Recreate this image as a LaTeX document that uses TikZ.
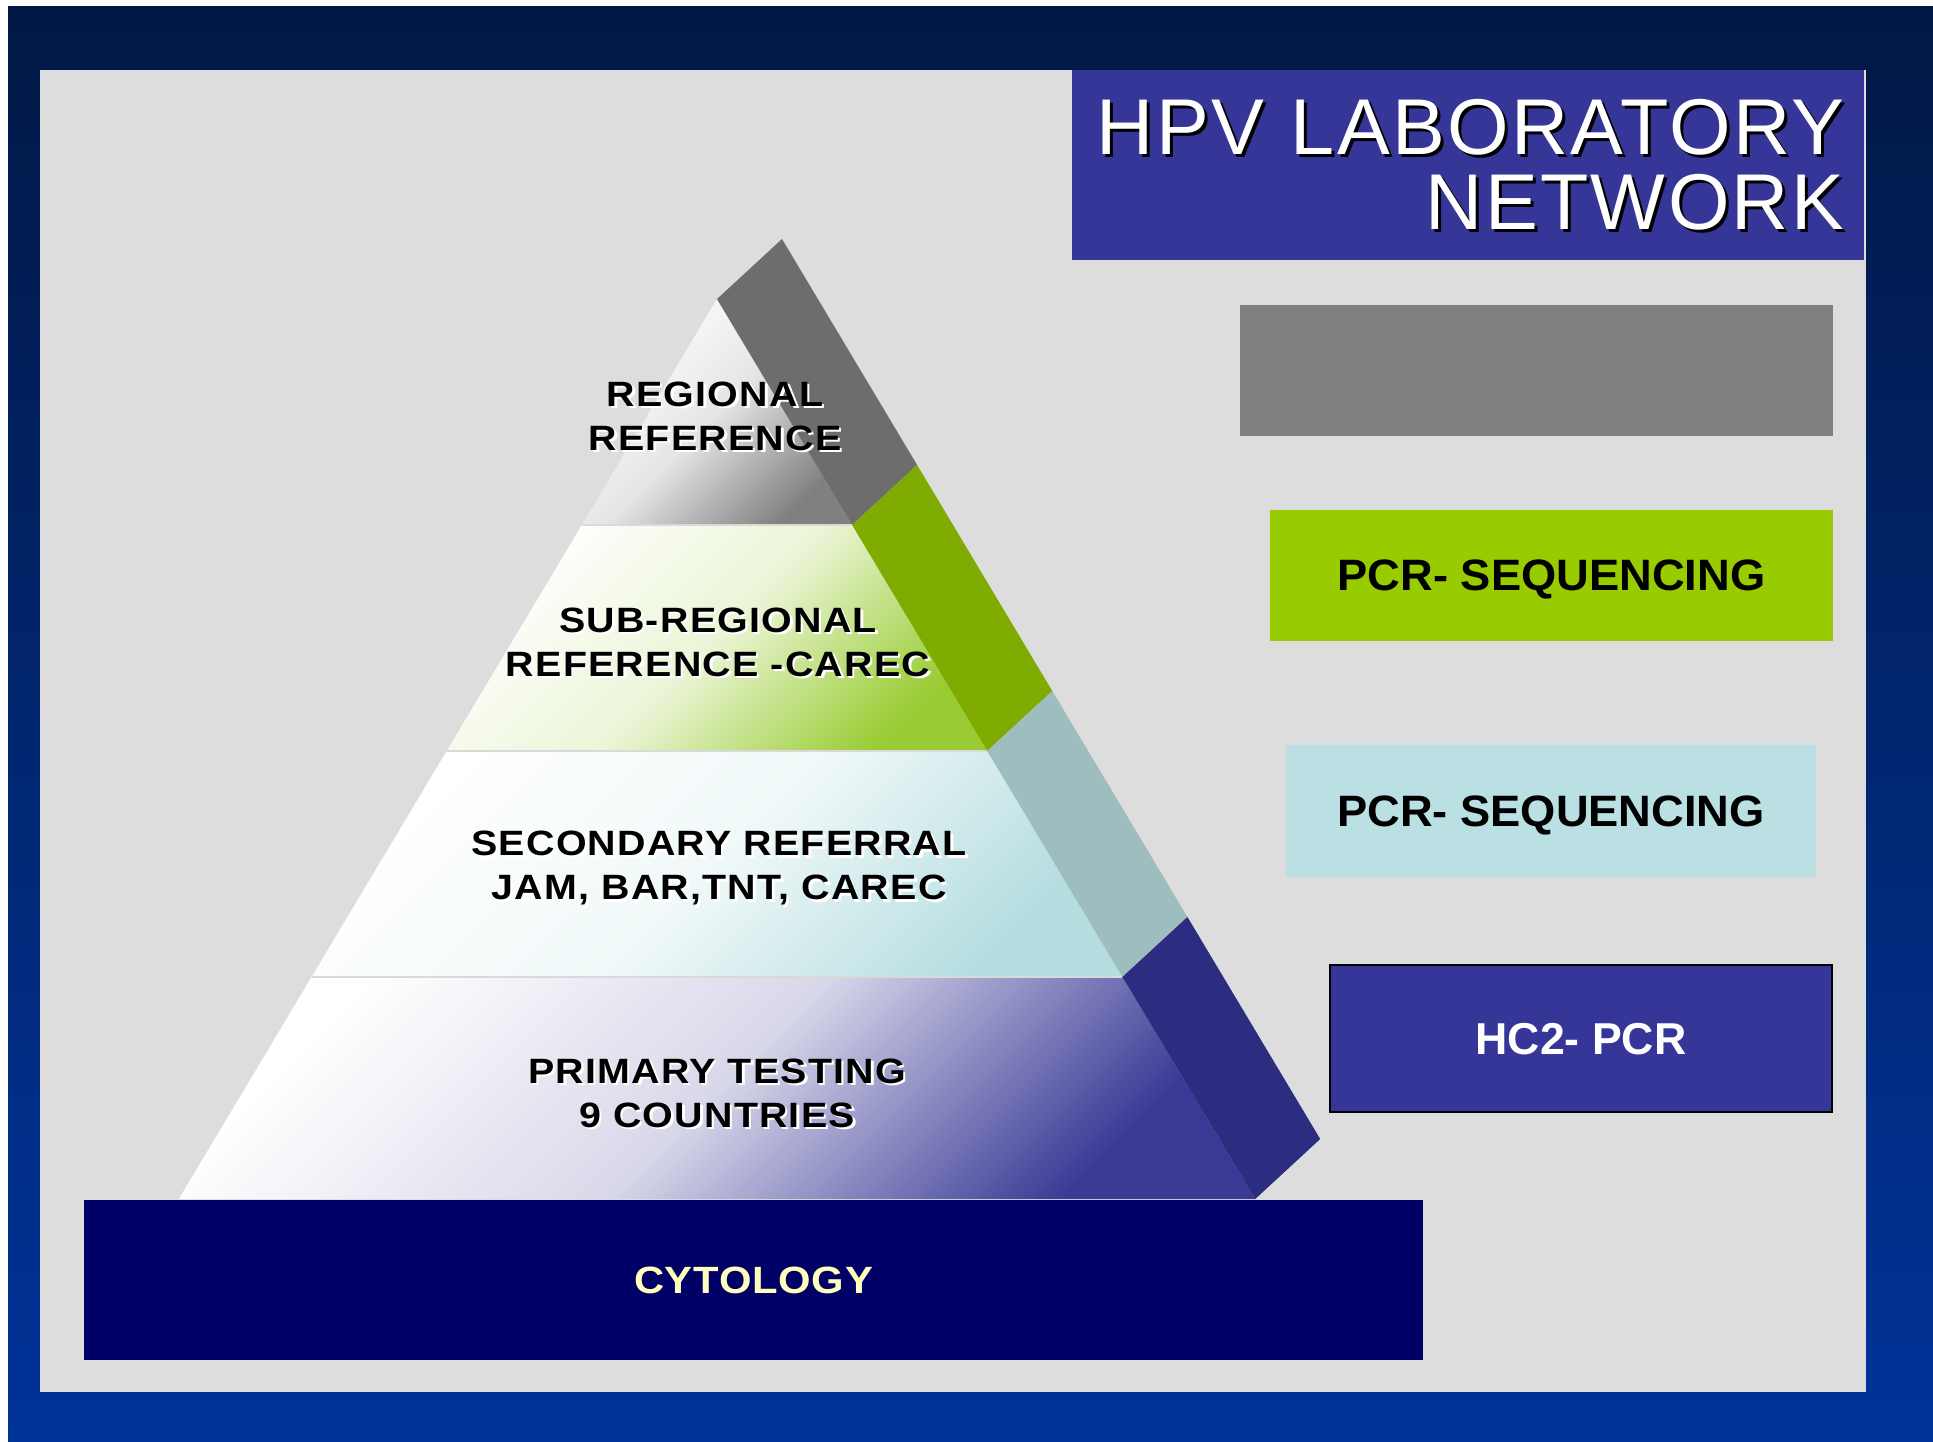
\documentclass[tikz,border=0pt]{standalone}
\usepackage{fontspec}
\setmainfont{Liberation Sans}
\newfontfamily\tierfont{Liberation Sans}[FakeStretch=1.12, LetterSpace=3.5]
\newfontfamily\cytofont{Liberation Sans}[FakeStretch=1.1, LetterSpace=2]
\newfontfamily\titlefont{Liberation Sans}[LetterSpace=3]
\newfontfamily\boxfont{Liberation Sans}[FakeStretch=1.03]
\usetikzlibrary{calc}

\definecolor{frametop}{HTML}{011845}
\definecolor{framebot}{HTML}{003399}
\definecolor{panel}{HTML}{DDDDDD}
\definecolor{titleblue}{HTML}{363699}
\definecolor{boxgray}{HTML}{808080}
\definecolor{boxgreen}{HTML}{99CC00}
\definecolor{boxteal}{HTML}{BBE0E3}
\definecolor{cyto}{HTML}{000066}
\definecolor{cytotext}{HTML}{FFFFBB}
\definecolor{bandgray}{HTML}{6D6D6D}
\definecolor{bandgreen}{HTML}{80AB00}
\definecolor{bandteal}{HTML}{9DBDBF}
\definecolor{bandblue}{HTML}{2C2C80}
\definecolor{lyrgray}{HTML}{808080}
\definecolor{lyrgreen}{HTML}{99CC33}
\definecolor{lyrteal}{HTML}{B5DDE0}
\definecolor{lyrblue}{HTML}{3A3A96}

\newcommand\tierlabel[3]{%
  \node[tiertext, text=white] (#1-sh) at ([shift={(2.5,2.5)}]#2) {#3};
  \node[tiertext] (#1) at (#2) {#3};}

\begin{document}
\begin{tikzpicture}[x=0.01cm, y=-0.01cm,
  tiertext/.style={font=\tierfont\bfseries\fontsize{10pt}{12.5pt}\selectfont, align=center, inner sep=0pt},
  titletext/.style={font=\titlefont\fontsize{22.5pt}{21.3pt}\selectfont, text width=7.52cm, align=right, inner sep=0pt},
  labbox/.style={inner sep=0pt, text depth=0pt, font=\boxfont\bfseries\fontsize{12.5pt}{15pt}\selectfont},
  sepline/.style={draw=black!15, line width=0.3pt}]
\useasboundingbox (0,0) rectangle (1933,1441);
\fill[white] (0,0) rectangle (1933,1441);
\shade[top color=frametop, bottom color=framebot] (8,6) rectangle (1933,1441);
\fill[panel] (40,70) rectangle (1866,1392);

\node[fill=titleblue, minimum width=7.92cm, minimum height=1.9cm] (titlebox) at (1468,165) {};
\node[titletext, text=black] (title-sh) at ([shift={(3,3)}]titlebox.center) {HPV LABORATORY\\NETWORK};
\node[titletext, text=white] (title) at (titlebox.center) {HPV LABORATORY\\NETWORK};

\coordinate (apex) at (717,299);
\coordinate (bl) at (178.8,1199);
\coordinate (br) at (1255.2,1199);
\foreach \ta/\tb/\lyr/\band in {0/0.2511/lyrgray/bandgray, 0.2511/0.5022/lyrgreen/bandgreen,
    0.5022/0.7533/lyrteal/bandteal, 0.7533/1/lyrblue/bandblue}{
  \shade[top color=white, bottom color=\lyr, middle color=\lyr!20!white, shading angle=45]
    ($(apex)!\ta!(bl)$) -- ($(apex)!\tb!(bl)$) -- ($(apex)!\tb!(br)$) -- ($(apex)!\ta!(br)$) -- cycle;
  \fill[\band] ($(apex)!\ta!(br)$) -- ($(apex)!\tb!(br)$) -- ++(65,-60) -- ($(apex)!\ta!(br)+(65,-60)$) -- cycle;
}
\foreach \t in {0.2511,0.5022,0.7533}
  \draw[sepline] ($(apex)!\t!(bl)$) -- ($(apex)!\t!(br)$);

\tierlabel{regional}{715,416}{REGIONAL\\REFERENCE}
\tierlabel{subregional}{718,642}{SUB-REGIONAL\\REFERENCE -CAREC}
\tierlabel{secondary}{719,868}{SECONDARY REFERRAL\\JAM, BAR,TNT, CAREC}
\tierlabel{primary}{717,1093}{PRIMARY TESTING\\9 COUNTRIES}

\node[fill=cyto, minimum width=13.39cm, minimum height=1.6cm, inner sep=0pt, text depth=0pt,
  text=cytotext, font=\cytofont\bfseries\fontsize{10.8pt}{13pt}\selectfont] (cytology) at (753.5,1280) {CYTOLOGY};

\node[fill=boxgray, minimum width=5.93cm, minimum height=1.31cm] (graybox) at (1536.5,370.5) {};
\node[labbox, fill=boxgreen, minimum width=5.63cm, minimum height=1.31cm] (seq1) at (1551.5,575.5) {PCR- SEQUENCING};
\node[labbox, fill=boxteal, minimum width=5.30cm, minimum height=1.32cm] (seq2) at (1551,811) {PCR- SEQUENCING};
\node[labbox, fill=titleblue, draw=black, line width=0.45pt, text=white, minimum width=5.02cm, minimum height=1.47cm,
  font=\bfseries\fontsize{12.7pt}{15pt}\selectfont] (hc2) at (1581,1038.5) {HC2- PCR};
\end{tikzpicture}
\end{document}
